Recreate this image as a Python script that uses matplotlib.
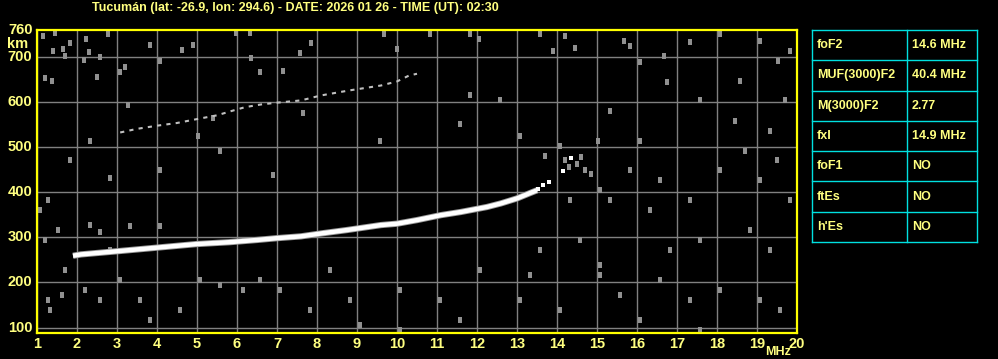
import matplotlib
matplotlib.use("Agg")
import matplotlib.pyplot as plt
from matplotlib.lines import Line2D

# ---------------- data ----------------
title = "Tucumán (lat: -26.9, lon: 294.6) - DATE: 2026 01 26 - TIME (UT): 02:30"
freq_ticks = list(range(1, 21))
height_ticks = [100, 200, 300, 400, 500, 600, 700]

# main O-trace (F2 layer)
trace_f = [1.9, 2.1, 3.0, 4.0, 5.0, 5.8, 6.5, 7.0, 7.6, 8.15, 8.75, 9.6, 10.0, 10.5, 11.1,
           11.6, 12.25, 12.6, 13.0, 13.33, 13.5]
trace_h = [259, 262, 269, 277, 285, 289, 294, 298, 302, 309, 316, 327, 330, 338, 349,
           356, 367, 375, 386, 398, 404]
tail_f = [13.53, 13.65, 13.8, 14.15, 14.35]
tail_h = [406, 415, 422, 446, 476]

# second hop trace
hop2_f = [3.08, 3.5, 4.0, 4.5, 5.08, 5.5, 5.88, 6.2, 6.6, 7.0, 7.6, 8.1, 8.8, 9.6, 10.0, 10.3, 10.5]
hop2_h = [532, 540, 547, 553, 563, 570, 580, 588, 594, 598, 603, 614, 625, 636, 645, 658, 662]

# background noise dots
noise_f = [1.15, 1.45, 1.4, 1.65, 1.7, 1.83, 2.23, 2.3, 2.18, 2.58, 2.78, 3.08, 3.2, 2.5, 1.2, 1.38,
           3.28, 3.83, 4.08, 4.63, 4.9, 5.4, 5.98, 6.33, 6.35, 6.58, 7.15, 7.58, 7.85, 9.68, 10.0,
           10.83, 11.83, 12.05, 13.58, 13.9, 14.2, 14.45, 15.68, 15.83, 16.08, 16.75, 16.68, 17.33,
           18.08, 18.58, 19.08, 19.53, 19.83, 19.7, 19.33, 18.45, 17.58, 15.33, 15.03, 16.08, 14.08,
           13.7, 13.08, 11.58, 11.83, 12.58, 9.58, 7.65, 6.9, 5.58, 5.03, 4.08, 2.83, 2.33, 1.83,
           1.28, 1.08, 1.53, 1.2, 1.7, 2.33, 2.58, 3.33, 4.08, 2.58, 3.58, 3.83, 2.2, 1.28, 1.33,
           1.63, 5.58, 6.15, 7.83, 9.08, 10.08, 11.58, 13.08, 14.08, 15.08, 15.08, 15.58, 16.08,
           16.58, 17.33, 17.58, 18.08, 19.08, 19.58, 17.33, 16.33, 15.33, 14.58, 13.58, 13.33, 16.83,
           17.58, 18.83, 19.33, 19.83, 15.83, 16.58, 18.08, 18.7, 19.08, 19.5, 15.08, 14.33, 12.08,
           11.08, 10.08, 8.83, 8.33, 7.08, 6.58, 5.08, 4.58, 3.08, 2.83,
           14.3, 14.5, 14.7, 14.85, 14.2, 14.6]
noise_h = [746, 753, 713, 716, 702, 731, 740, 711, 693, 700, 751, 667, 676, 654, 652, 647,
           592, 726, 691, 715, 726, 563, 753, 753, 698, 665, 669, 709, 731, 751, 716,
           751, 751, 740, 751, 713, 746, 718, 735, 724, 687, 643, 702, 733,
           751, 647, 735, 691, 713, 603, 536, 558, 603, 580, 514, 514, 503,
           481, 525, 550, 614, 603, 514, 576, 437, 492, 525, 448, 431, 514, 470,
           382, 360, 316, 294, 227, 327, 311, 325, 325, 161, 161, 117, 183, 161, 139,
           172, 194, 183, 139, 106, 95, 117, 161, 139, 238, 216, 172, 117,
           205, 161, 95, 183, 161, 139, 382, 360, 382, 294, 272, 216, 272,
           294, 316, 272, 382, 448, 426, 448, 492, 426, 470, 404, 382, 227,
           161, 183, 161, 227, 183, 205, 205, 139, 205, 272,
           455, 462, 448, 440, 470, 478]

table_labels = ["foF2", "MUF(3000)F2", "M(3000)F2", "fxI", "foF1", "ftEs", "h'Es"]
table_values = ["14.6 MHz", "40.4 MHz", "2.77", "14.9 MHz", "NO", "NO", "NO"]

# ---------------- style ----------------
W, H = 998, 359
YEL = "#ffff80"
BORDER = "#ffff00"
CYAN = "#00e0e0"
FONT = "Liberation Sans"

fig = plt.figure(figsize=(W / 100, H / 100), dpi=100, facecolor="black")
x0, x1 = 37, 797
y0, y1 = 29.5, 333
ax = fig.add_axes([x0 / W, 1 - y1 / H, (x1 - x0) / W, (y1 - y0) / H])
ax.set_facecolor("black")
ax.set_xlim(1, 20)
ax.set_ylim(88, 760)

for f in freq_ticks:
    ax.axvline(f, color="#808080", lw=1, zorder=1)
for h in height_ticks:
    ax.axhline(h, color="#808080", lw=1, zorder=1)

dot = [(-0.6, -1), (0.6, -1), (0.6, 1), (-0.6, 1), (-0.6, -1)]
ax.plot(noise_f, noise_h, ls="none", marker=dot, color="#909090", ms=4, mew=0, zorder=2)
ax.plot(hop2_f, hop2_h, color="#c0c0c0", lw=1.5, ls=(0, (2, 2.5)), zorder=3)
ax.plot(trace_f, trace_h, color="#9a9a9a", lw=4.5, solid_capstyle="butt", zorder=3)
ax.plot(trace_f, trace_h, color="white", lw=3.2, solid_capstyle="butt", zorder=4)
ax.plot(tail_f, tail_h, "s", color="white", ms=2.5, mew=0, zorder=4)

for s in ax.spines.values():
    s.set_color(BORDER)
    s.set_linewidth(1.6)
ax.set_xticks([])
ax.set_yticks([])

tk = dict(color=YEL, fontsize=10.5, fontweight="bold", family=FONT)
ph = y1 - y0
for f in freq_ticks:
    ax.text(f, -10.5 / ph, str(f), transform=ax.get_xaxis_transform(), ha="center", va="center", **tk)
ax.text(19.52, -19 / ph, "MHz", transform=ax.get_xaxis_transform(), ha="center", va="center",
        color=YEL, fontsize=9, fontweight="bold", family=FONT)
for h in height_ticks:
    ax.text(-0.006, h, str(h), transform=ax.get_yaxis_transform(), ha="right", va="center", **tk)
ax.text(-0.006, 760, "760", transform=ax.get_yaxis_transform(), ha="right", va="center", **tk)
ax.text(-0.025, 727, "km", transform=ax.get_yaxis_transform(), ha="center", va="center", **tk)

fig.text(295 / W, 1 - 8 / H, title, ha="center", va="center", color=YEL,
         fontsize=9, fontweight="bold", family=FONT)

# table
tx0, tx1, tmid = 812, 977, 907
ty0, ty1 = 30, 242
n = len(table_labels)
rh = (ty1 - ty0) / n
def fx(px): return px / W
def fy(py): return 1 - py / H
for i in range(n + 1):
    y = ty0 + i * rh
    fig.add_artist(Line2D([fx(tx0), fx(tx1)], [fy(y), fy(y)], color=CYAN, lw=1))
for xv in (tx0, tmid, tx1):
    fig.add_artist(Line2D([fx(xv), fx(xv)], [fy(ty0), fy(ty1)], color=CYAN, lw=1))
for i, (lab, val) in enumerate(zip(table_labels, table_values)):
    yc = ty0 + (i + 0.5) * rh
    fig.text(fx(tx0 + 5), fy(yc), lab, ha="left", va="center", color=YEL,
             fontsize=9, fontweight="bold", family=FONT)
    fig.text(fx(tmid + 5), fy(yc), val, ha="left", va="center", color=YEL,
             fontsize=9, fontweight="bold", family=FONT)

fig.savefig("out.png", dpi=100, facecolor="black")
